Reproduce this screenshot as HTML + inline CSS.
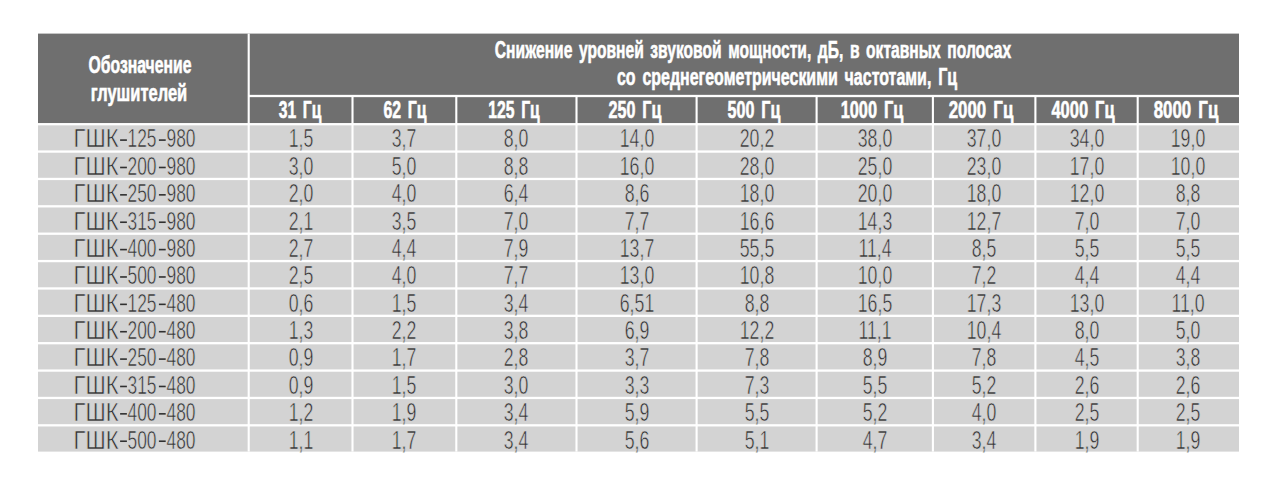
<!DOCTYPE html>
<html><head><meta charset="utf-8"><style>
html,body{margin:0;padding:0;background:#fff;width:1280px;height:489px;overflow:hidden}
body{position:relative;font-family:"Liberation Sans", sans-serif}
svg{position:absolute;left:0;top:0}
.t{position:absolute;white-space:nowrap;width:1000px;text-align:center;font-size:25.2px;line-height:25.2px;color:#303030;-webkit-text-stroke:0.6px #d3d3d3}
.b{font-weight:bold;color:#fff;font-size:24px;line-height:24px;-webkit-text-stroke:0.6px #fff;word-spacing:3.5px}
</style></head><body>
<svg width="1280" height="489" viewBox="0 0 1280 489">
<rect x="38.00" y="33.60" width="1201.00" height="90.60" fill="#6f6f6f"/>
<rect x="38.00" y="124.20" width="1201.00" height="327.40" fill="#d3d3d3"/>
<rect x="248.70" y="94.85" width="990.30" height="2.30" fill="#fff"/>
<rect x="38.00" y="123.05" width="1201.00" height="2.30" fill="#fff"/>
<rect x="38.00" y="150.42" width="1201.00" height="2.30" fill="#fff"/>
<rect x="38.00" y="177.80" width="1201.00" height="2.30" fill="#fff"/>
<rect x="38.00" y="205.17" width="1201.00" height="2.30" fill="#fff"/>
<rect x="38.00" y="232.55" width="1201.00" height="2.30" fill="#fff"/>
<rect x="38.00" y="259.93" width="1201.00" height="2.30" fill="#fff"/>
<rect x="38.00" y="287.30" width="1201.00" height="2.30" fill="#fff"/>
<rect x="38.00" y="314.68" width="1201.00" height="2.30" fill="#fff"/>
<rect x="38.00" y="342.05" width="1201.00" height="2.30" fill="#fff"/>
<rect x="38.00" y="369.43" width="1201.00" height="2.30" fill="#fff"/>
<rect x="38.00" y="396.80" width="1201.00" height="2.30" fill="#fff"/>
<rect x="38.00" y="424.18" width="1201.00" height="2.30" fill="#fff"/>
<rect x="247.65" y="33.60" width="2.10" height="418.00" fill="#fff"/>
<rect x="351.45" y="96.00" width="2.10" height="355.60" fill="#fff"/>
<rect x="455.25" y="96.00" width="2.10" height="355.60" fill="#fff"/>
<rect x="575.45" y="96.00" width="2.10" height="355.60" fill="#fff"/>
<rect x="695.55" y="96.00" width="2.10" height="355.60" fill="#fff"/>
<rect x="815.55" y="96.00" width="2.10" height="355.60" fill="#fff"/>
<rect x="931.85" y="96.00" width="2.10" height="355.60" fill="#fff"/>
<rect x="1034.35" y="96.00" width="2.10" height="355.60" fill="#fff"/>
<rect x="1136.65" y="96.00" width="2.10" height="355.60" fill="#fff"/>
<rect x="120.10" y="139.30" width="6.80" height="1.60" fill="#303030"/>
<rect x="158.90" y="139.30" width="6.80" height="1.60" fill="#303030"/>
<rect x="120.10" y="166.68" width="6.80" height="1.60" fill="#303030"/>
<rect x="158.90" y="166.68" width="6.80" height="1.60" fill="#303030"/>
<rect x="120.10" y="194.05" width="6.80" height="1.60" fill="#303030"/>
<rect x="158.90" y="194.05" width="6.80" height="1.60" fill="#303030"/>
<rect x="120.10" y="221.43" width="6.80" height="1.60" fill="#303030"/>
<rect x="158.90" y="221.43" width="6.80" height="1.60" fill="#303030"/>
<rect x="120.10" y="248.80" width="6.80" height="1.60" fill="#303030"/>
<rect x="158.90" y="248.80" width="6.80" height="1.60" fill="#303030"/>
<rect x="120.10" y="276.17" width="6.80" height="1.60" fill="#303030"/>
<rect x="158.90" y="276.17" width="6.80" height="1.60" fill="#303030"/>
<rect x="120.10" y="303.55" width="6.80" height="1.60" fill="#303030"/>
<rect x="158.90" y="303.55" width="6.80" height="1.60" fill="#303030"/>
<rect x="120.10" y="330.92" width="6.80" height="1.60" fill="#303030"/>
<rect x="158.90" y="330.92" width="6.80" height="1.60" fill="#303030"/>
<rect x="120.10" y="358.30" width="6.80" height="1.60" fill="#303030"/>
<rect x="158.90" y="358.30" width="6.80" height="1.60" fill="#303030"/>
<rect x="120.10" y="385.67" width="6.80" height="1.60" fill="#303030"/>
<rect x="158.90" y="385.67" width="6.80" height="1.60" fill="#303030"/>
<rect x="120.10" y="413.05" width="6.80" height="1.60" fill="#303030"/>
<rect x="158.90" y="413.05" width="6.80" height="1.60" fill="#303030"/>
<rect x="120.10" y="440.42" width="6.80" height="1.60" fill="#303030"/>
<rect x="158.90" y="440.42" width="6.80" height="1.60" fill="#303030"/>
</svg>
<div class="t b" style="left:252.65px;top:37.58px;transform:scaleX(0.6499)">Снижение уровней звуковой мощности, дБ, в октавных полосах</div>
<div class="t b" style="left:287.40px;top:65.18px;transform:scaleX(0.6655)">со среднегеометрическими частотами, Гц</div>
<div class="t b" style="left:-359.75px;top:52.98px;transform:scaleX(0.6552)">Обозначение</div>
<div class="t b" style="left:-360.85px;top:80.58px;transform:scaleX(0.6860)">глушителей</div>
<div class="t b" style="left:-200.00px;top:97.88px;transform:scaleX(0.6524)">31 Гц</div>
<div class="t b" style="left:-94.90px;top:97.88px;transform:scaleX(0.6600)">62 Гц</div>
<div class="t b" style="left:14.40px;top:97.88px;transform:scaleX(0.6540)">125 Гц</div>
<div class="t b" style="left:134.60px;top:97.88px;transform:scaleX(0.6727)">250 Гц</div>
<div class="t b" style="left:254.20px;top:97.88px;transform:scaleX(0.6727)">500 Гц</div>
<div class="t b" style="left:371.90px;top:97.88px;transform:scaleX(0.6815)">1000 Гц</div>
<div class="t b" style="left:481.30px;top:97.88px;transform:scaleX(0.7035)">2000 Гц</div>
<div class="t b" style="left:583.00px;top:97.88px;transform:scaleX(0.6871)">4000 Гц</div>
<div class="t b" style="left:685.90px;top:97.88px;transform:scaleX(0.7035)">8000 Гц</div>
<div class="t" style="left:-404.25px;top:126.47px;transform:scaleX(0.8778)">ГШК</div>
<div class="t" style="left:-357.80px;top:126.47px;transform:scaleX(0.6900)">125</div>
<div class="t" style="left:-318.95px;top:126.47px;transform:scaleX(0.6900)">980</div>
<div class="t" style="left:-199.40px;top:126.47px;transform:scaleX(0.7031)">1,5</div>
<div class="t" style="left:-95.60px;top:126.47px;transform:scaleX(0.7031)">3,7</div>
<div class="t" style="left:16.40px;top:126.47px;transform:scaleX(0.7031)">8,0</div>
<div class="t" style="left:136.55px;top:126.47px;transform:scaleX(0.7031)">14,0</div>
<div class="t" style="left:256.60px;top:126.47px;transform:scaleX(0.7031)">20,2</div>
<div class="t" style="left:374.75px;top:126.47px;transform:scaleX(0.7031)">38,0</div>
<div class="t" style="left:484.15px;top:126.47px;transform:scaleX(0.7031)">37,0</div>
<div class="t" style="left:586.55px;top:126.47px;transform:scaleX(0.7031)">34,0</div>
<div class="t" style="left:688.35px;top:126.47px;transform:scaleX(0.7031)">19,0</div>
<div class="t" style="left:-404.25px;top:153.84px;transform:scaleX(0.8778)">ГШК</div>
<div class="t" style="left:-357.80px;top:153.84px;transform:scaleX(0.6900)">200</div>
<div class="t" style="left:-318.95px;top:153.84px;transform:scaleX(0.6900)">980</div>
<div class="t" style="left:-199.40px;top:153.84px;transform:scaleX(0.7031)">3,0</div>
<div class="t" style="left:-95.60px;top:153.84px;transform:scaleX(0.7031)">5,0</div>
<div class="t" style="left:16.40px;top:153.84px;transform:scaleX(0.7031)">8,8</div>
<div class="t" style="left:136.55px;top:153.84px;transform:scaleX(0.7031)">16,0</div>
<div class="t" style="left:256.60px;top:153.84px;transform:scaleX(0.7031)">28,0</div>
<div class="t" style="left:374.75px;top:153.84px;transform:scaleX(0.7031)">25,0</div>
<div class="t" style="left:484.15px;top:153.84px;transform:scaleX(0.7031)">23,0</div>
<div class="t" style="left:586.55px;top:153.84px;transform:scaleX(0.7031)">17,0</div>
<div class="t" style="left:688.35px;top:153.84px;transform:scaleX(0.7031)">10,0</div>
<div class="t" style="left:-404.25px;top:181.22px;transform:scaleX(0.8778)">ГШК</div>
<div class="t" style="left:-357.80px;top:181.22px;transform:scaleX(0.6900)">250</div>
<div class="t" style="left:-318.95px;top:181.22px;transform:scaleX(0.6900)">980</div>
<div class="t" style="left:-199.40px;top:181.22px;transform:scaleX(0.7031)">2,0</div>
<div class="t" style="left:-95.60px;top:181.22px;transform:scaleX(0.7031)">4,0</div>
<div class="t" style="left:16.40px;top:181.22px;transform:scaleX(0.7031)">6,4</div>
<div class="t" style="left:136.55px;top:181.22px;transform:scaleX(0.7031)">8,6</div>
<div class="t" style="left:256.60px;top:181.22px;transform:scaleX(0.7031)">18,0</div>
<div class="t" style="left:374.75px;top:181.22px;transform:scaleX(0.7031)">20,0</div>
<div class="t" style="left:484.15px;top:181.22px;transform:scaleX(0.7031)">18,0</div>
<div class="t" style="left:586.55px;top:181.22px;transform:scaleX(0.7031)">12,0</div>
<div class="t" style="left:688.35px;top:181.22px;transform:scaleX(0.7031)">8,8</div>
<div class="t" style="left:-404.25px;top:208.59px;transform:scaleX(0.8778)">ГШК</div>
<div class="t" style="left:-357.80px;top:208.59px;transform:scaleX(0.6900)">315</div>
<div class="t" style="left:-318.95px;top:208.59px;transform:scaleX(0.6900)">980</div>
<div class="t" style="left:-199.40px;top:208.59px;transform:scaleX(0.7031)">2,1</div>
<div class="t" style="left:-95.60px;top:208.59px;transform:scaleX(0.7031)">3,5</div>
<div class="t" style="left:16.40px;top:208.59px;transform:scaleX(0.7031)">7,0</div>
<div class="t" style="left:136.55px;top:208.59px;transform:scaleX(0.7031)">7,7</div>
<div class="t" style="left:256.60px;top:208.59px;transform:scaleX(0.7031)">16,6</div>
<div class="t" style="left:374.75px;top:208.59px;transform:scaleX(0.7031)">14,3</div>
<div class="t" style="left:484.15px;top:208.59px;transform:scaleX(0.7031)">12,7</div>
<div class="t" style="left:586.55px;top:208.59px;transform:scaleX(0.7031)">7,0</div>
<div class="t" style="left:688.35px;top:208.59px;transform:scaleX(0.7031)">7,0</div>
<div class="t" style="left:-404.25px;top:235.97px;transform:scaleX(0.8778)">ГШК</div>
<div class="t" style="left:-357.80px;top:235.97px;transform:scaleX(0.6900)">400</div>
<div class="t" style="left:-318.95px;top:235.97px;transform:scaleX(0.6900)">980</div>
<div class="t" style="left:-199.40px;top:235.97px;transform:scaleX(0.7031)">2,7</div>
<div class="t" style="left:-95.60px;top:235.97px;transform:scaleX(0.7031)">4,4</div>
<div class="t" style="left:16.40px;top:235.97px;transform:scaleX(0.7031)">7,9</div>
<div class="t" style="left:136.55px;top:235.97px;transform:scaleX(0.7031)">13,7</div>
<div class="t" style="left:256.60px;top:235.97px;transform:scaleX(0.7031)">55,5</div>
<div class="t" style="left:374.75px;top:235.97px;transform:scaleX(0.7031)">11,4</div>
<div class="t" style="left:484.15px;top:235.97px;transform:scaleX(0.7031)">8,5</div>
<div class="t" style="left:586.55px;top:235.97px;transform:scaleX(0.7031)">5,5</div>
<div class="t" style="left:688.35px;top:235.97px;transform:scaleX(0.7031)">5,5</div>
<div class="t" style="left:-404.25px;top:263.34px;transform:scaleX(0.8778)">ГШК</div>
<div class="t" style="left:-357.80px;top:263.34px;transform:scaleX(0.6900)">500</div>
<div class="t" style="left:-318.95px;top:263.34px;transform:scaleX(0.6900)">980</div>
<div class="t" style="left:-199.40px;top:263.34px;transform:scaleX(0.7031)">2,5</div>
<div class="t" style="left:-95.60px;top:263.34px;transform:scaleX(0.7031)">4,0</div>
<div class="t" style="left:16.40px;top:263.34px;transform:scaleX(0.7031)">7,7</div>
<div class="t" style="left:136.55px;top:263.34px;transform:scaleX(0.7031)">13,0</div>
<div class="t" style="left:256.60px;top:263.34px;transform:scaleX(0.7031)">10,8</div>
<div class="t" style="left:374.75px;top:263.34px;transform:scaleX(0.7031)">10,0</div>
<div class="t" style="left:484.15px;top:263.34px;transform:scaleX(0.7031)">7,2</div>
<div class="t" style="left:586.55px;top:263.34px;transform:scaleX(0.7031)">4,4</div>
<div class="t" style="left:688.35px;top:263.34px;transform:scaleX(0.7031)">4,4</div>
<div class="t" style="left:-404.25px;top:290.72px;transform:scaleX(0.8778)">ГШК</div>
<div class="t" style="left:-357.80px;top:290.72px;transform:scaleX(0.6900)">125</div>
<div class="t" style="left:-318.95px;top:290.72px;transform:scaleX(0.6900)">480</div>
<div class="t" style="left:-199.40px;top:290.72px;transform:scaleX(0.7031)">0,6</div>
<div class="t" style="left:-95.60px;top:290.72px;transform:scaleX(0.7031)">1,5</div>
<div class="t" style="left:16.40px;top:290.72px;transform:scaleX(0.7031)">3,4</div>
<div class="t" style="left:136.55px;top:290.72px;transform:scaleX(0.7031)">6,51</div>
<div class="t" style="left:256.60px;top:290.72px;transform:scaleX(0.7031)">8,8</div>
<div class="t" style="left:374.75px;top:290.72px;transform:scaleX(0.7031)">16,5</div>
<div class="t" style="left:484.15px;top:290.72px;transform:scaleX(0.7031)">17,3</div>
<div class="t" style="left:586.55px;top:290.72px;transform:scaleX(0.7031)">13,0</div>
<div class="t" style="left:688.35px;top:290.72px;transform:scaleX(0.7031)">11,0</div>
<div class="t" style="left:-404.25px;top:318.09px;transform:scaleX(0.8778)">ГШК</div>
<div class="t" style="left:-357.80px;top:318.09px;transform:scaleX(0.6900)">200</div>
<div class="t" style="left:-318.95px;top:318.09px;transform:scaleX(0.6900)">480</div>
<div class="t" style="left:-199.40px;top:318.09px;transform:scaleX(0.7031)">1,3</div>
<div class="t" style="left:-95.60px;top:318.09px;transform:scaleX(0.7031)">2,2</div>
<div class="t" style="left:16.40px;top:318.09px;transform:scaleX(0.7031)">3,8</div>
<div class="t" style="left:136.55px;top:318.09px;transform:scaleX(0.7031)">6,9</div>
<div class="t" style="left:256.60px;top:318.09px;transform:scaleX(0.7031)">12,2</div>
<div class="t" style="left:374.75px;top:318.09px;transform:scaleX(0.7031)">11,1</div>
<div class="t" style="left:484.15px;top:318.09px;transform:scaleX(0.7031)">10,4</div>
<div class="t" style="left:586.55px;top:318.09px;transform:scaleX(0.7031)">8,0</div>
<div class="t" style="left:688.35px;top:318.09px;transform:scaleX(0.7031)">5,0</div>
<div class="t" style="left:-404.25px;top:345.47px;transform:scaleX(0.8778)">ГШК</div>
<div class="t" style="left:-357.80px;top:345.47px;transform:scaleX(0.6900)">250</div>
<div class="t" style="left:-318.95px;top:345.47px;transform:scaleX(0.6900)">480</div>
<div class="t" style="left:-199.40px;top:345.47px;transform:scaleX(0.7031)">0,9</div>
<div class="t" style="left:-95.60px;top:345.47px;transform:scaleX(0.7031)">1,7</div>
<div class="t" style="left:16.40px;top:345.47px;transform:scaleX(0.7031)">2,8</div>
<div class="t" style="left:136.55px;top:345.47px;transform:scaleX(0.7031)">3,7</div>
<div class="t" style="left:256.60px;top:345.47px;transform:scaleX(0.7031)">7,8</div>
<div class="t" style="left:374.75px;top:345.47px;transform:scaleX(0.7031)">8,9</div>
<div class="t" style="left:484.15px;top:345.47px;transform:scaleX(0.7031)">7,8</div>
<div class="t" style="left:586.55px;top:345.47px;transform:scaleX(0.7031)">4,5</div>
<div class="t" style="left:688.35px;top:345.47px;transform:scaleX(0.7031)">3,8</div>
<div class="t" style="left:-404.25px;top:372.84px;transform:scaleX(0.8778)">ГШК</div>
<div class="t" style="left:-357.80px;top:372.84px;transform:scaleX(0.6900)">315</div>
<div class="t" style="left:-318.95px;top:372.84px;transform:scaleX(0.6900)">480</div>
<div class="t" style="left:-199.40px;top:372.84px;transform:scaleX(0.7031)">0,9</div>
<div class="t" style="left:-95.60px;top:372.84px;transform:scaleX(0.7031)">1,5</div>
<div class="t" style="left:16.40px;top:372.84px;transform:scaleX(0.7031)">3,0</div>
<div class="t" style="left:136.55px;top:372.84px;transform:scaleX(0.7031)">3,3</div>
<div class="t" style="left:256.60px;top:372.84px;transform:scaleX(0.7031)">7,3</div>
<div class="t" style="left:374.75px;top:372.84px;transform:scaleX(0.7031)">5,5</div>
<div class="t" style="left:484.15px;top:372.84px;transform:scaleX(0.7031)">5,2</div>
<div class="t" style="left:586.55px;top:372.84px;transform:scaleX(0.7031)">2,6</div>
<div class="t" style="left:688.35px;top:372.84px;transform:scaleX(0.7031)">2,6</div>
<div class="t" style="left:-404.25px;top:400.22px;transform:scaleX(0.8778)">ГШК</div>
<div class="t" style="left:-357.80px;top:400.22px;transform:scaleX(0.6900)">400</div>
<div class="t" style="left:-318.95px;top:400.22px;transform:scaleX(0.6900)">480</div>
<div class="t" style="left:-199.40px;top:400.22px;transform:scaleX(0.7031)">1,2</div>
<div class="t" style="left:-95.60px;top:400.22px;transform:scaleX(0.7031)">1,9</div>
<div class="t" style="left:16.40px;top:400.22px;transform:scaleX(0.7031)">3,4</div>
<div class="t" style="left:136.55px;top:400.22px;transform:scaleX(0.7031)">5,9</div>
<div class="t" style="left:256.60px;top:400.22px;transform:scaleX(0.7031)">5,5</div>
<div class="t" style="left:374.75px;top:400.22px;transform:scaleX(0.7031)">5,2</div>
<div class="t" style="left:484.15px;top:400.22px;transform:scaleX(0.7031)">4,0</div>
<div class="t" style="left:586.55px;top:400.22px;transform:scaleX(0.7031)">2,5</div>
<div class="t" style="left:688.35px;top:400.22px;transform:scaleX(0.7031)">2,5</div>
<div class="t" style="left:-404.25px;top:427.59px;transform:scaleX(0.8778)">ГШК</div>
<div class="t" style="left:-357.80px;top:427.59px;transform:scaleX(0.6900)">500</div>
<div class="t" style="left:-318.95px;top:427.59px;transform:scaleX(0.6900)">480</div>
<div class="t" style="left:-199.40px;top:427.59px;transform:scaleX(0.7031)">1,1</div>
<div class="t" style="left:-95.60px;top:427.59px;transform:scaleX(0.7031)">1,7</div>
<div class="t" style="left:16.40px;top:427.59px;transform:scaleX(0.7031)">3,4</div>
<div class="t" style="left:136.55px;top:427.59px;transform:scaleX(0.7031)">5,6</div>
<div class="t" style="left:256.60px;top:427.59px;transform:scaleX(0.7031)">5,1</div>
<div class="t" style="left:374.75px;top:427.59px;transform:scaleX(0.7031)">4,7</div>
<div class="t" style="left:484.15px;top:427.59px;transform:scaleX(0.7031)">3,4</div>
<div class="t" style="left:586.55px;top:427.59px;transform:scaleX(0.7031)">1,9</div>
<div class="t" style="left:688.35px;top:427.59px;transform:scaleX(0.7031)">1,9</div>
</body></html>
